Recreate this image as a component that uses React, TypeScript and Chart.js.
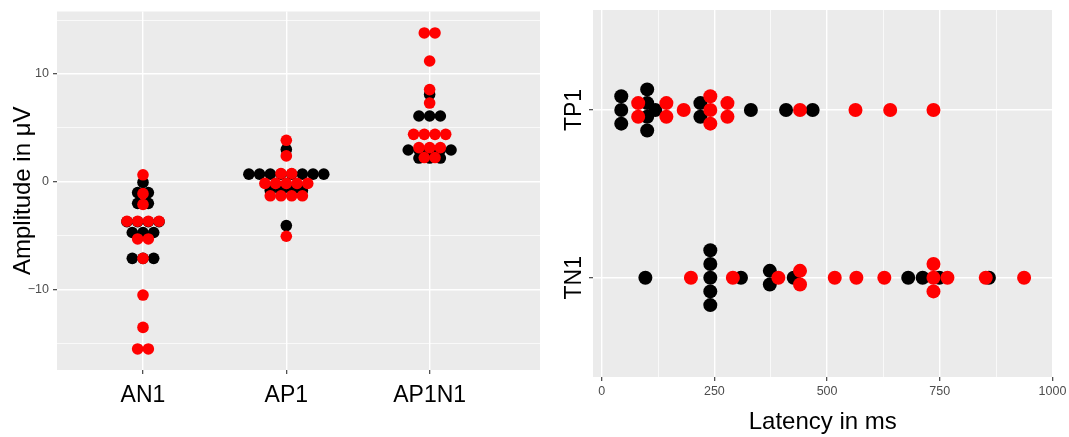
import React, { useEffect, useRef } from 'react';
import { Chart, registerables } from 'chart.js';

Chart.register(...registerables);

const FONT = '"Liberation Sans", Arial, Helvetica, sans-serif';

// ---------- Left panel: amplitude (µV) per component ----------
const ampCategories = ['AN1', 'AP1', 'AP1N1'];
const ampYTicks = [-15, -10, -5, 0, 5, 10, 15];

const ampBlackAN1 = [-0.06, -1.0, -1.0, -2.0, -2.0, -3.7, -3.7, -3.7, -3.7, -4.7, -4.7, -4.7, -7.1, -7.1, -7.1];
const ampRedAN1 = [0.65, -1.1, -2.1, -3.66, -3.66, -3.66, -3.66, -5.3, -5.3, -7.1, -10.5, -13.5, -15.5, -15.5];

const ampBlackAP1 = [3.0, 0.71, 0.71, 0.71, 0.71, 0.71, 0.71, 0.71, 0.71, -0.8, -0.8, -0.8, -0.8, -4.06];
const ampRedAP1 = [3.85, 2.4, 0.77, 0.77, -0.15, -0.15, -0.15, -0.15, -0.15, -1.3, -1.3, -1.3, -1.3, -5.05];

const ampBlackAP1N1 = [8.1, 6.1, 6.1, 6.1, 2.95, 2.95, 2.95, 2.95, 2.95, 2.2, 2.2, 2.2];
const ampRedAP1N1 = [13.8, 13.8, 11.2, 8.55, 7.3, 4.4, 4.4, 4.4, 4.4, 3.17, 3.17, 3.17, 2.25, 2.25];

// ---------- Right panel: latency (ms) per component ----------
const latCategories = ['TN1', 'TP1'];
const latXTicks = [0, 125, 250, 375, 500, 625, 750, 875, 1000];

const latBlackTP1 = [43.5, 43.5, 43.5, 101, 101, 101, 101, 119, 219, 219, 331, 409, 468];
const latRedTP1 = [81, 81, 143.6, 143.6, 182, 241, 241, 241, 279, 279, 440, 563, 640, 736];

const latBlackTN1 = [97, 241, 241, 241, 241, 241, 309, 373, 373, 426, 680, 712, 749, 859];
const latRedTN1 = [198, 291, 392, 440, 440, 517, 565, 627, 736, 736, 736, 767, 852, 937];

const BLACK = '#000000';
const RED = '#FF0000';
const PANEL_BG = '#EBEBEB';

// identical values are spread in a centred row (beeswarm-like)
function swarm(values: number[], center: number, step: number, valueOnY: boolean) {
  const counts = new Map<number, number>();
  values.forEach((v) => counts.set(v, (counts.get(v) || 0) + 1));
  const seen = new Map<number, number>();
  return values.map((v) => {
    const n = counts.get(v) as number;
    const i = seen.get(v) || 0;
    seen.set(v, i + 1);
    const off = center + (i - (n - 1) / 2) * step;
    return valueOnY ? { x: off, y: v } : { x: v, y: off };
  });
}

const panelBg = {
  id: 'panelBg',
  beforeDraw(chart: any) {
    const { ctx, chartArea } = chart;
    ctx.save();
    ctx.fillStyle = PANEL_BG;
    ctx.fillRect(chartArea.left, chartArea.top, chartArea.right - chartArea.left, chartArea.bottom - chartArea.top);
    ctx.restore();
  },
};

const fmtNum = (v: number) => (v < 0 ? '\u2212' + Math.abs(v) : String(v));

function ampDatasets(step: number, radius: number) {
  const blacks = [ampBlackAN1, ampBlackAP1, ampBlackAP1N1];
  const reds = [ampRedAN1, ampRedAP1, ampRedAP1N1];
  const mk = (vals: number[][], color: string) => ({
    type: 'scatter' as const,
    data: vals.flatMap((arr, gi) => swarm(arr, gi + 1, step, true)),
    pointRadius: radius,
    pointHoverRadius: radius,
    pointBackgroundColor: color,
    pointBorderWidth: 0,
    borderWidth: 0,
    showLine: false,
  });
  // first dataset is drawn on top in Chart.js
  return [mk(reds, RED), mk(blacks, BLACK)];
}

function latDatasets(step: number, radius: number) {
  const mk = (tp1: number[], tn1: number[], color: string) => ({
    type: 'scatter' as const,
    data: [...swarm(tp1, 2, step, false), ...swarm(tn1, 1, step, false)],
    pointRadius: radius,
    pointHoverRadius: radius,
    pointBackgroundColor: color,
    pointBorderWidth: 0,
    borderWidth: 0,
    showLine: false,
  });
  return [mk(latRedTP1, latRedTN1, RED), mk(latBlackTP1, latBlackTN1, BLACK)];
}

function AmplitudeChart() {
  const ref = useRef<HTMLCanvasElement>(null);
  useEffect(() => {
    const R = 5.8;
    const chart = new Chart(ref.current as HTMLCanvasElement, {
      type: 'scatter',
      data: { datasets: ampDatasets(0, R) as any },
      options: {
        animation: false,
        responsive: false,
        maintainAspectRatio: false,
        events: [],
        layout: { padding: { top: 10, right: 20, left: 0, bottom: 0 } },
        plugins: { legend: { display: false }, tooltip: { enabled: false } },
        scales: {
          x: {
            type: 'linear',
            min: 0.4,
            max: 3.77,
            afterBuildTicks: (s: any) => {
              s.ticks = [1, 2, 3].map((v) => ({ value: v }));
            },
            afterFit: (s: any) => {
              s.height = 67;
            },
            border: { display: false },
            grid: { color: '#FFFFFF', lineWidth: 1.4, tickColor: '#333333', tickLength: 4, tickWidth: 1.1 },
            ticks: {
              autoSkip: false,
              maxRotation: 0,
              minRotation: 0,
              padding: 8,
              color: '#000000',
              font: { family: FONT, size: 23 },
              callback: (v: any) => ampCategories[Math.round(Number(v)) - 1] ?? '',
            },
          },
          y: {
            type: 'linear',
            min: -17.45,
            max: 15.79,
            afterBuildTicks: (s: any) => {
              s.ticks = ampYTicks.map((v) => ({ value: v }));
            },
            afterFit: (s: any) => {
              s.width = 57;
            },
            border: { display: false },
            grid: {
              color: '#FFFFFF',
              lineWidth: (c: any) => (c.tick && c.tick.value % 10 === 0 ? 1.4 : 0.7),
              tickColor: (c: any) => (c.tick && c.tick.value % 10 === 0 ? '#333333' : 'rgba(0,0,0,0)'),
              tickLength: 4,
              tickWidth: 1.1,
            },
            ticks: {
              autoSkip: false,
              padding: 4,
              color: '#4D4D4D',
              font: { family: FONT, size: 12.5 },
              callback: (v: any) => (Number(v) % 10 === 0 ? fmtNum(Number(v)) : ''),
            },
            title: {
              display: true,
              text: 'Amplitude in \u03bcV',
              color: '#000000',
              font: { family: FONT, size: 24 },
              padding: { top: 8.6, bottom: 0 },
            },
          },
        },
      },
      plugins: [panelBg],
    });
    const xs: any = chart.scales.x;
    const ppu = Math.abs(xs.getPixelForValue(1) - xs.getPixelForValue(0));
    chart.data.datasets = ampDatasets(10.7 / ppu, R) as any;
    chart.update();
    return () => chart.destroy();
  }, []);
  return <canvas ref={ref} width={560} height={437} style={{ position: 'absolute', left: 0, top: 0, display: 'block' }} />;
}

const catLabels = {
  id: 'catLabels',
  afterDraw(chart: any) {
    const { ctx, chartArea } = chart;
    const ys = chart.scales.y;
    ctx.save();
    ctx.fillStyle = '#000000';
    ctx.font = `23px ${FONT}`;
    ctx.textAlign = 'center';
    ctx.textBaseline = 'middle';
    latCategories.forEach((lab, i) => {
      const y = ys.getPixelForValue(i + 1);
      ctx.save();
      ctx.translate(chartArea.left - 18, y);
      ctx.rotate(-Math.PI / 2);
      ctx.fillText(lab, 0, 0);
      ctx.restore();
    });
    ctx.restore();
  },
};

function LatencyChart() {
  const ref = useRef<HTMLCanvasElement>(null);
  useEffect(() => {
    const R = 7;
    const chart = new Chart(ref.current as HTMLCanvasElement, {
      type: 'scatter',
      data: { datasets: latDatasets(0, R) as any },
      options: {
        animation: false,
        responsive: false,
        maintainAspectRatio: false,
        events: [],
        layout: { padding: { top: 10, right: 16.3, left: 0, bottom: 0 } },
        plugins: { legend: { display: false }, tooltip: { enabled: false } },
        scales: {
          x: {
            type: 'linear',
            min: -19.2,
            max: 1000,
            afterBuildTicks: (s: any) => {
              s.ticks = latXTicks.map((v) => ({ value: v }));
            },
            afterFit: (s: any) => {
              s.height = 60;
            },
            border: { display: false },
            grid: {
              color: '#FFFFFF',
              lineWidth: (c: any) => (c.tick && c.tick.value % 250 === 0 ? 1.4 : 0.7),
              tickColor: (c: any) => (c.tick && c.tick.value % 250 === 0 ? '#333333' : 'rgba(0,0,0,0)'),
              tickLength: 4,
              tickWidth: 1.1,
            },
            ticks: {
              autoSkip: false,
              maxRotation: 0,
              minRotation: 0,
              padding: 2.6,
              color: '#4D4D4D',
              font: { family: FONT, size: 12.5 },
              callback: (v: any) => (Number(v) % 250 === 0 ? String(v) : ''),
            },
            title: {
              display: true,
              text: 'Latency in ms',
              color: '#000000',
              font: { family: FONT, size: 24 },
              padding: { top: 0, bottom: 0 },
            },
          },
          y: {
            type: 'linear',
            min: 0.408,
            max: 2.596,
            afterBuildTicks: (s: any) => {
              s.ticks = [1, 2].map((v) => ({ value: v }));
            },
            afterFit: (s: any) => {
              s.width = 33;
            },
            border: { display: false },
            grid: { color: '#FFFFFF', lineWidth: 1.4, tickColor: '#333333', tickLength: 4, tickWidth: 1.1 },
            ticks: { display: false },
          },
        },
      },
      plugins: [panelBg, catLabels],
    });
    const ys: any = chart.scales.y;
    const ppu = Math.abs(ys.getPixelForValue(1) - ys.getPixelForValue(0));
    chart.data.datasets = latDatasets(13.7 / ppu, R) as any;
    chart.update();
    return () => chart.destroy();
  }, []);
  return <canvas ref={ref} width={509} height={437} style={{ position: 'absolute', left: 560, top: 0, display: 'block' }} />;
}

export default function App() {
  return (
    <div style={{ position: 'absolute', left: 0, top: 0, width: 1069, height: 437, background: '#FFFFFF', overflow: 'hidden' }}>
      <AmplitudeChart />
      <LatencyChart />
    </div>
  );
}
